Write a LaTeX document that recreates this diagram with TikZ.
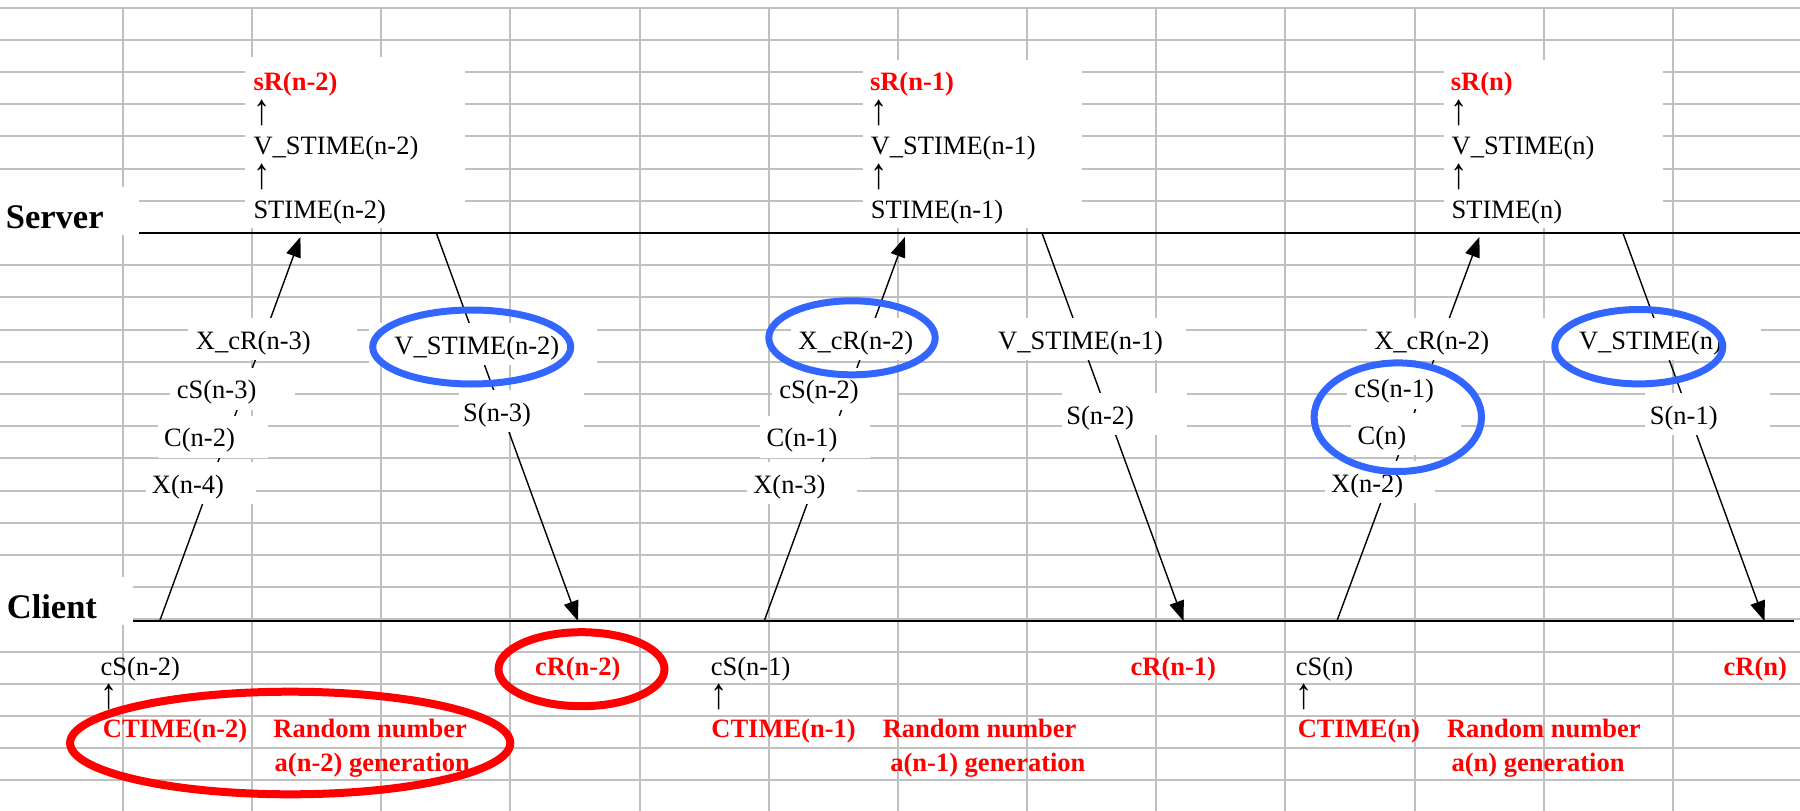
\documentclass[tikz,border=0pt]{standalone}
\usepackage{fontspec}
\setmainfont{Liberation Serif}
\usetikzlibrary{arrows.meta}
\definecolor{gridgray}{RGB}{192,192,192}
\definecolor{ellblue}{RGB}{51,102,255}
\newcommand\lblsize{\fontsize{26.5pt}{32pt}\selectfont}
\newcommand\bigsize{\fontsize{34.5pt}{40pt}\selectfont}
\newcommand\uparr{\raisebox{0pt}[21pt][0pt]{\scalebox{1.3}[1.65]{↑}}}
\begin{document}
\begin{tikzpicture}[x=1pt,y=-1pt,
  gridline/.style={draw=gridgray,line width=2pt},
  axisline/.style={draw=black,line width=1.8pt},
  msg/.style={draw=black,line width=1.4pt,-{Triangle[length=20pt,width=15pt]}},
  txt/.style={anchor=base west,inner sep=0pt,font=\lblsize},
  rtxt/.style={anchor=base west,inner sep=0pt,text=red,font=\lblsize\bfseries},
  hdr/.style={anchor=base west,inner sep=0pt,font=\bigsize\bfseries},
  blueell/.style={draw=ellblue,line width=7pt},
  redell/.style={draw=red,line width=8pt},
  wbox/.style={fill=white}]
\useasboundingbox (0,0) rectangle (1800,811);
\fill[white] (0,0) rectangle (1800,811);
% grid
\foreach \k in {0,...,24} \draw[gridline] (0,{7.5+32.2*\k}) -- (1800,{7.5+32.2*\k});
\foreach \j in {0,...,12} \draw[gridline] ({123+129.15*\j},7.5) -- ({123+129.15*\j},811);
% white boxes behind top texts and headers
\fill[wbox] (245,57) rectangle (465,227.5);
\fill[wbox] (863,60) rectangle (1082,227.5);
\fill[wbox] (1444,60) rectangle (1663,227.5);
\fill[wbox] (0,187) rectangle (138.5,234.5);
\fill[wbox] (0,577) rectangle (133,625);
% headers
\node[hdr] (server) at (5.7,228) {Server};
\node[hdr] (client) at (6.7,618.5) {Client};
% time lines
\coordinate (sL) at (138.5,232.7);
\coordinate (sR) at (1800,232.7);
\coordinate (cL) at (133,620.7);
\coordinate (cRt) at (1794,620.7);
\draw[axisline] (sL) -- (sR);
\draw[axisline] (cL) -- (cRt);
% messages
\coordinate (u1a) at (159.8,620.7); \coordinate (u1b) at (300.4,237);
\coordinate (u2a) at (764.3,620.7); \coordinate (u2b) at (904.9,237);
\coordinate (u3a) at (1337,620.7);  \coordinate (u3b) at (1479.4,237);
\coordinate (d1a) at (436.3,233);   \coordinate (d1b) at (578,621);
\coordinate (d2a) at (1042,233);    \coordinate (d2b) at (1183.5,621);
\coordinate (d3a) at (1622.9,233);  \coordinate (d3b) at (1764.5,621);
\draw[msg] (u1a) -- (u1b);
\draw[msg] (u2a) -- (u2b);
\draw[msg] (u3a) -- (u3b);
\draw[msg] (d1a) -- (d1b);
\draw[msg] (d2a) -- (d2b);
\draw[msg] (d3a) -- (d3b);
% label boxes on messages
\fill[wbox] (188.2,318) rectangle (356.7,360);
\fill[wbox] (169.7,367.5) rectangle (294.7,409.5);
\fill[wbox] (157.5,415.5) rectangle (267.5,457.5);
\fill[wbox] (145.5,462) rectangle (255.5,504);
\fill[wbox] (369,323) rectangle (597,365);
\fill[wbox] (458.5,390) rectangle (583.5,432);
\fill[wbox] (790.7,318) rectangle (959.2,360);
\fill[wbox] (772.1,367.5) rectangle (897.1,409.5);
\fill[wbox] (760,415.5) rectangle (870,457.5);
\fill[wbox] (747,462) rectangle (857,504);
\fill[wbox] (958,318) rectangle (1186,360);
\fill[wbox] (1061.6,393) rectangle (1186.6,435);
\fill[wbox] (1366.6,318) rectangle (1535.1,360);
\fill[wbox] (1347.2,366.5) rectangle (1472.2,408.5);
\fill[wbox] (1351,413) rectangle (1461,455);
\fill[wbox] (1325,461) rectangle (1435,503);
\fill[wbox] (1533,318) rectangle (1761,360);
\fill[wbox] (1645.2,393) rectangle (1770.2,435);
% top server texts
\node[rtxt] (sr1) at (253.3,90) {sR(n-2)};
\node[txt] (sr1a) at (253.3,124.5) {\uparr};
\node[txt] (sr1v) at (253.3,154.5) {V\_STIME(n-2)};
\node[txt] (sr1b) at (253.3,188.5) {\uparr};
\node[txt] (sr1s) at (253.3,218) {STIME(n-2)};
\node[rtxt] (sr2) at (869.8,90) {sR(n-1)};
\node[txt] (sr2a) at (869.8,124.5) {\uparr};
\node[txt] (sr2v) at (870.6,154.5) {V\_STIME(n-1)};
\node[txt] (sr2b) at (869.8,188.5) {\uparr};
\node[txt] (sr2s) at (870.6,218) {STIME(n-1)};
\node[rtxt] (sr3) at (1450.7,90) {sR(n)};
\node[txt] (sr3a) at (1450.7,124.5) {\uparr};
\node[txt] (sr3v) at (1451.5,154.5) {V\_STIME(n)};
\node[txt] (sr3b) at (1450.7,188.5) {\uparr};
\node[txt] (sr3s) at (1451.5,218) {STIME(n)};
% message labels
\node[txt] (m1a) at (195.7,349) {X\_cR(n-3)};
\node[txt] (m1b) at (176.7,398.5) {cS(n-3)};
\node[txt] (m1c) at (164,446.5) {C(n-2)};
\node[txt] (m1d) at (151.7,493) {X(n-4)};
\node[txt] (m1v) at (394.2,354) {V\_STIME(n-2)};
\node[txt] (m1s) at (463,421) {S(n-3)};
\node[txt] (m2a) at (798.2,349) {X\_cR(n-2)};
\node[txt] (m2b) at (779.1,398.5) {cS(n-2)};
\node[txt] (m2c) at (766.5,446.5) {C(n-1)};
\node[txt] (m2d) at (753.1,493) {X(n-3)};
\node[txt] (m2v) at (998,349) {V\_STIME(n-1)};
\node[txt] (m2s) at (1066.1,424) {S(n-2)};
\node[txt] (m3a) at (1374.1,349) {X\_cR(n-2)};
\node[txt] (m3b) at (1354.2,397.5) {cS(n-1)};
\node[txt] (m3c) at (1357.5,444) {C(n)};
\node[txt] (m3d) at (1331,492) {X(n-2)};
\node[txt] (m3v) at (1578.9,349) {V\_STIME(n)};
\node[txt] (m3s) at (1649.7,424) {S(n-1)};
% client texts
\node[txt] (cs1) at (100.4,675) {cS(n-2)};
\node[txt] (cs1a) at (100.4,708) {\uparr};
\node[rtxt] (ct1) at (102.7,737.5) {CTIME(n-2)};
\node[rtxt] (rn1) at (273.2,737.5) {Random number};
\node[rtxt] (ag1) at (274.5,771.5) {a(n-2) generation};
\node[rtxt] (cr1) at (534.8,675) {cR(n-2)};
\node[txt] (cs2) at (710.7,675) {cS(n-1)};
\node[txt] (cs2a) at (710.7,708) {\uparr};
\node[rtxt] (ct2) at (711.2,737) {CTIME(n-1)};
\node[rtxt] (rn2) at (882.6,737) {Random number};
\node[rtxt] (ag2) at (890.2,771) {a(n-1) generation};
\node[rtxt] (cr2) at (1130.4,675) {cR(n-1)};
\node[txt] (cs3) at (1295.7,675) {cS(n)};
\node[txt] (cs3a) at (1295.7,708) {\uparr};
\node[rtxt] (ct3) at (1297.6,737) {CTIME(n)};
\node[rtxt] (rn3) at (1446.8,737) {Random number};
\node[rtxt] (ag3) at (1451.4,771) {a(n) generation};
\node[rtxt] (cr3) at (1723.5,675) {cR(n)};
% highlight ellipses
\draw[blueell] (471.7,347) ellipse [x radius=99pt, y radius=37pt];
\draw[blueell] (852,337.8) ellipse [x radius=83.2pt, y radius=37pt];
\draw[blueell] (1397.8,417.2) ellipse [x radius=83.7pt, y radius=54.3pt];
\draw[blueell] (1638.8,346.7) ellipse [x radius=84pt, y radius=37.2pt];
\draw[redell] (290.2,743) ellipse [x radius=220.1pt, y radius=51.3pt];
\draw[redell] (581.5,669.2) ellipse [x radius=83pt, y radius=37pt];
\end{tikzpicture}
\end{document}
